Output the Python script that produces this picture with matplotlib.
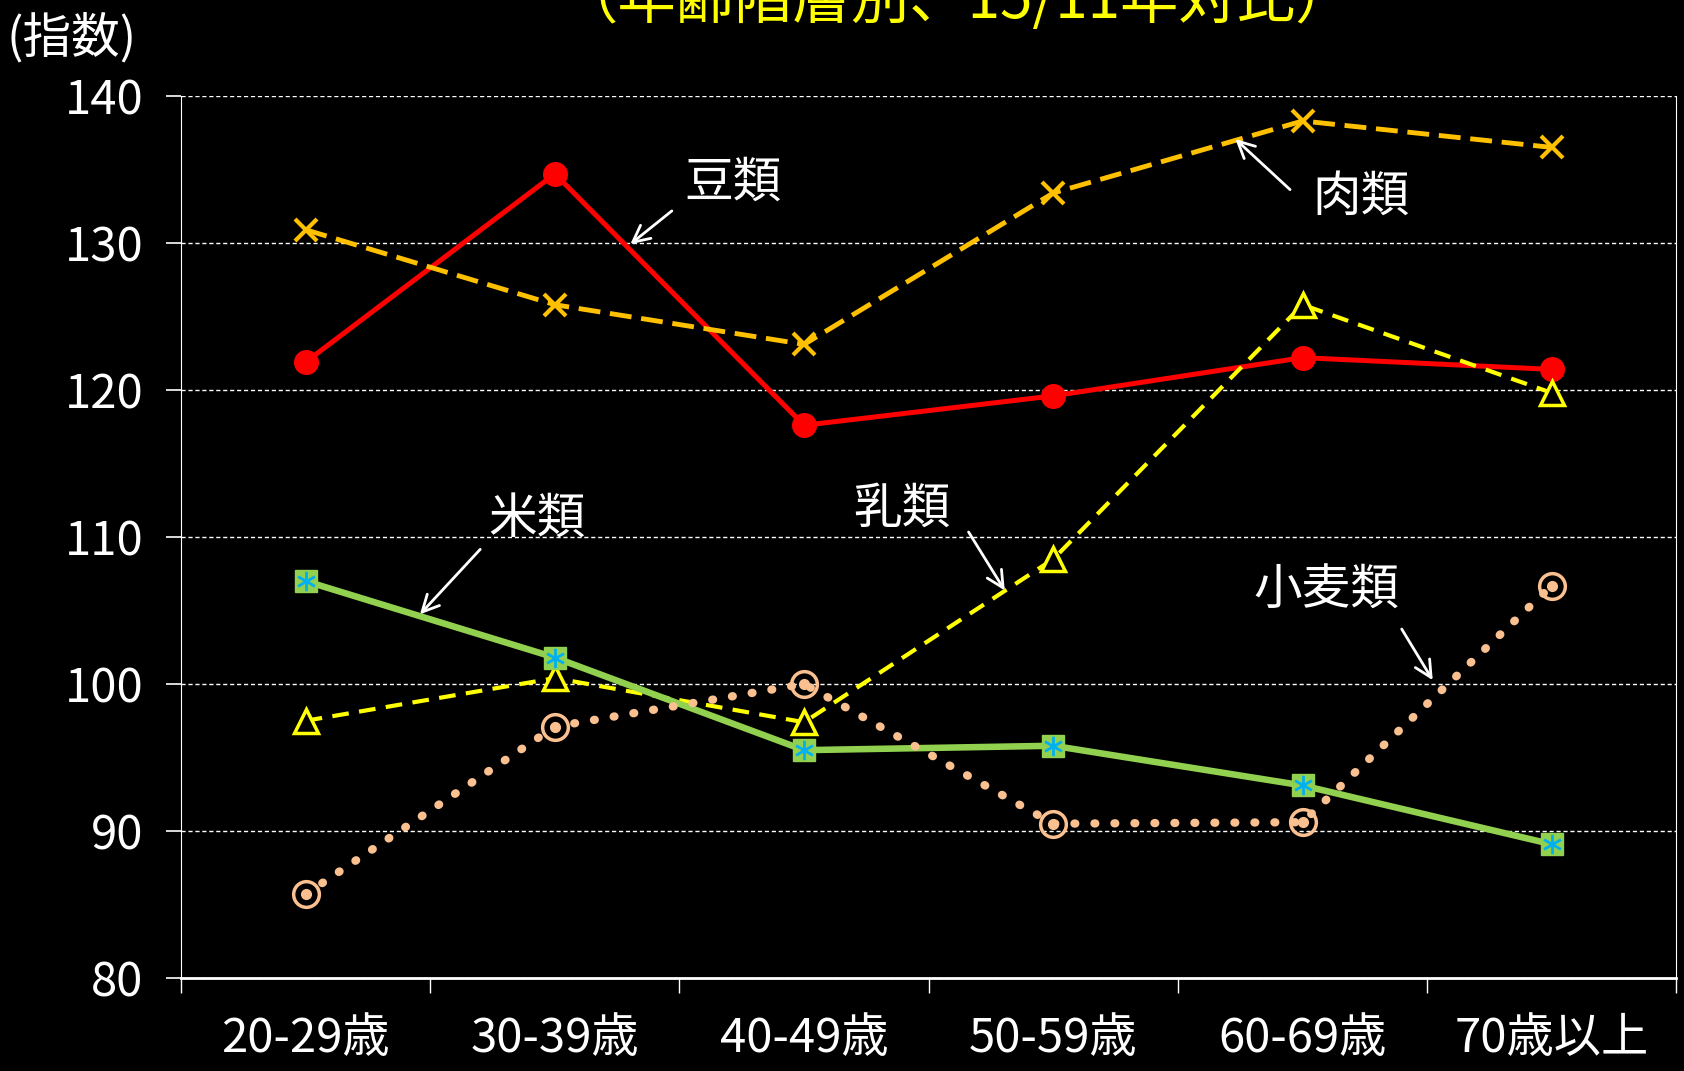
import numpy as np
import matplotlib
matplotlib.use("Agg")
import matplotlib.pyplot as plt
from matplotlib.path import Path

plt.rcParams['font.family'] = ['Noto Sans CJK JP', 'DejaVu Sans']

# age groups and index values (2011 = 100)
age_groups = ["20-29歳", "30-39歳", "40-49歳", "50-59歳", "60-69歳", "70歳以上"]
beans = [121.9, 134.7, 117.6, 119.6, 122.2, 121.4]   # 豆類
meat = [130.9, 125.8, 123.1, 133.4, 138.3, 136.5]    # 肉類
milk = [97.5, 100.4, 97.4, 108.5, 125.8, 119.8]      # 乳類
rice = [107.0, 101.8, 95.5, 95.8, 93.1, 89.1]        # 米類
wheat = [85.7, 97.1, 100.0, 90.5, 90.6, 106.7]       # 小麦類

y_ticks = [80, 90, 100, 110, 120, 130, 140]

RED = "#FF0000"
ORANGE = "#FFC000"
YELLOW = "#FFFF00"
GREEN = "#92D050"
BLUE = "#00B0F0"
PEACH = "#FAC090"

# asterisk without the horizontal bar (vertical + two diagonals)
star = Path(
    [(0, -1), (0, 1), (-0.87, -0.5), (0.87, 0.5), (-0.87, 0.5), (0.87, -0.5)],
    [Path.MOVETO, Path.LINETO, Path.MOVETO, Path.LINETO, Path.MOVETO, Path.LINETO],
)

fig = plt.figure(figsize=(16.84, 10.71), dpi=100, facecolor="black")
ax = fig.add_axes([0.1075, 0.0868, 0.888, 0.8236], facecolor="black")

x = np.arange(len(age_groups)) + 0.5

ax.plot(x, beans, color=RED, lw=3.6, marker="o", ms=17, mfc=RED, mec=RED, zorder=3)
ax.plot(x, meat, color=ORANGE, lw=3.5, ls=(0, (4.5, 2)), marker="x", ms=16, mew=3, zorder=3)
ax.plot(x, milk, color=YELLOW, lw=3, ls=(0, (4, 2.5)), marker="^", ms=17,
        mfc="black", mec=YELLOW, mew=2.5, zorder=4)
ax.plot(x, rice, color=GREEN, lw=4.7, marker="s", ms=16, mfc=GREEN, mec=GREEN, zorder=5)
ax.plot(x, rice, ls="none", marker=star, ms=14, mec=BLUE, mew=2, zorder=6)
ax.plot(x, wheat, color=PEACH, lw=6, ls=(0, (0.1, 2.3)), dash_capstyle="round",
        marker="o", ms=18.5, mfc="none", mec=PEACH, mew=2.5, zorder=7)
ax.plot(x, wheat, ls="none", marker="o", ms=7, mfc=PEACH, mec=PEACH, zorder=7)

ax.set_xlim(0, len(age_groups))
ax.set_ylim(80, 140)
ax.set_yticks(y_ticks)
ax.set_yticklabels([str(v) for v in y_ticks])
ax.set_xticks(range(len(age_groups) + 1))
ax.set_xticklabels([])
ax.set_xticks(x, minor=True)
ax.set_xticklabels(age_groups, minor=True)

ax.tick_params(axis="y", colors="white", labelsize=34, length=11, width=1.2, pad=16)
ax.tick_params(axis="x", which="major", colors="white", length=11, width=1, direction="out")
ax.tick_params(axis="x", which="minor", colors="white", labelsize=34, length=0, pad=26)

for side in ["left", "right"]:
    ax.spines[side].set_color("white")
    ax.spines[side].set_linewidth(0.8)
ax.spines["top"].set_visible(False)
ax.spines["bottom"].set_color("white")
ax.spines["bottom"].set_linewidth(2)

ax.yaxis.grid(True, color="white", ls=(0, (3, 2)), lw=1)
ax.set_axisbelow(True)

# series labels with arrows
labels = [
    ("豆類", (2.215, 134.1), (1.978, 132.3), (1.794, 129.8)),
    ("肉類", (4.735, 133.1), (4.458, 133.5), (4.222, 137.2)),
    ("乳類", (2.893, 111.9), (3.154, 110.5), (3.311, 106.2)),
    ("米類", (1.429, 111.2), (1.208, 109.3), (0.951, 104.6)),
    ("小麦類", (4.595, 106.3), (4.892, 103.9), (5.028, 100.1)),
]
for text, pos, tail, head in labels:
    ax.text(pos[0], pos[1], text, color="white", fontsize=35, ha="center", va="center", zorder=10)
    ax.annotate("", xy=head, xytext=tail,
                arrowprops=dict(arrowstyle="->", color="white", lw=2,
                                mutation_scale=30), zorder=10)

fig.text(0.004, 1 - 38 / 1071, "(指数)", color="white", fontsize=35, ha="left", va="center")
fig.text(0.568, 1 - 18 / 1071, "（年齢階層別、15/11年対比）", color=YELLOW,
         fontsize=42, ha="center", va="baseline")

fig.savefig("out.png", dpi=100, facecolor="black")
